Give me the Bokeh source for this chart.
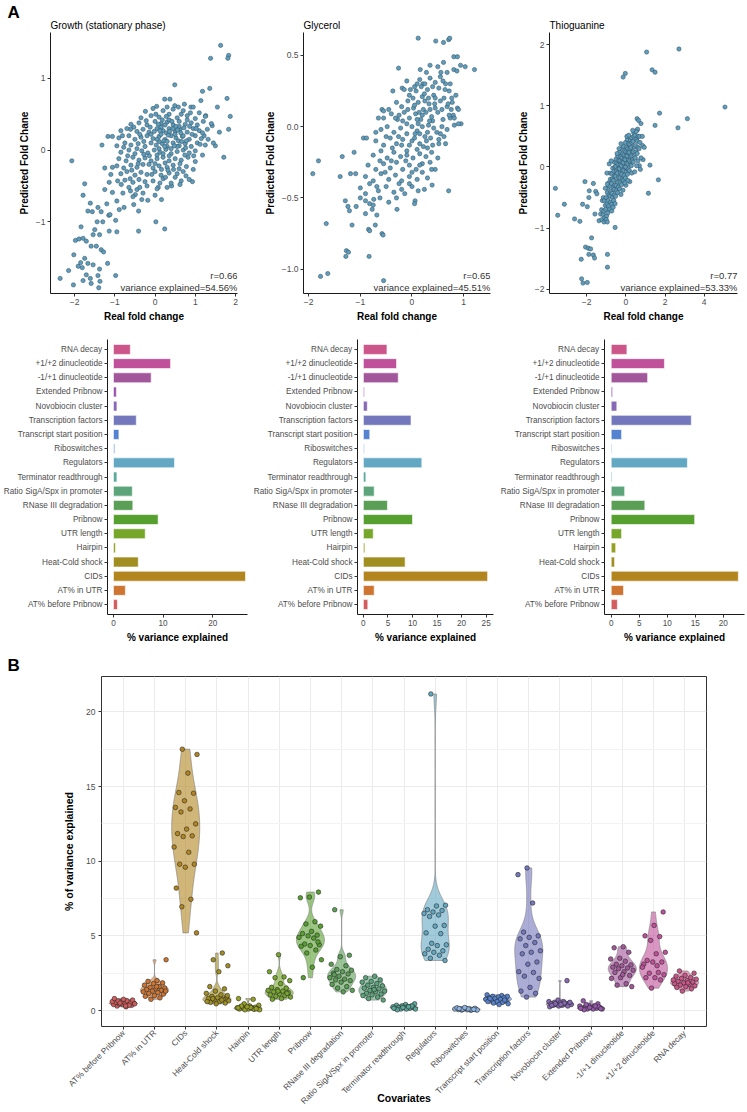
import numpy as np
from bokeh.plotting import figure
from bokeh.layouts import column, row
from bokeh.models import Range1d, FactorRange, FixedTicker, Label, ColumnDataSource, Title
from bokeh.embed import file_html
from bokeh.resources import INLINE

FONT = "Liberation Sans"
MINUS = "\u2212"

# ---------------- data ----------------
covariates = ["AT% before Pribnow", "AT% in UTR", "CIDs", "Heat-Cold shock", "Hairpin",
              "UTR length", "Pribnow", "RNase III degradation", "Ratio SigA/Spx in promoter",
              "Terminator readthrough", "Regulators", "Riboswitches", "Transcript start position",
              "Transcription factors", "Novobiocin cluster", "Extended Pribnow",
              "-1/+1 dinucleotide", "+1/+2 dinucleotide", "RNA decay"]
palette = ["#D35C5C", "#CE7532", "#B3851F", "#A18E20", "#97A121", "#76A72B", "#56A02F",
           "#5A9F55", "#5CA57B", "#5BA99C", "#62A8C2", "#8DB5E6", "#5683D1", "#7377BC",
           "#8769B6", "#9757AC", "#A3579B", "#C0509A", "#CC5689"]

bar_growth = [0.8, 2.4, 26.6, 5.0, 0.4, 6.4, 9.0, 3.9, 3.8, 0.7, 12.3, 0.3, 1.1, 4.6, 0.7, 0.6, 7.6, 11.5, 3.4]
bar_glycerol = [0.9, 2.2, 25.3, 8.5, 0.3, 2.0, 10.0, 4.9, 2.2, 0.5, 11.9, 0.2, 1.3, 9.7, 0.8, 0.2, 7.1, 6.75, 4.8]
bar_thio = [1.1, 2.2, 22.7, 0.6, 0.8, 1.85, 14.9, 6.0, 2.4, 0.15, 13.6, 0.15, 1.85, 14.3, 1.0, 0.25, 6.5, 9.5, 2.8]

growth_points = [
    (1.63, 1.46), (1.83, 1.32), (1.81, 1.28), (1.38, 1.28), (1.36, 0.86), (1.18, 0.82), (0.49, 0.91),
    (1.79, 0.72), (1.87, 0.47), (1.83, 0.29), (1.5, 0.06), (-2.07, -0.15), (-1.32, 0.07), (-1.17, 0.19),
    (-1.06, 0.19), (-1.75, -0.47), (-1.79, -0.63), (-1.61, -0.74), (-1.67, -0.85), (-1.56, -0.86),
    (-1.42, -0.80), (-1.34, -0.86), (-1.44, -1.0), (-1.84, -1.07), (-1.50, -1.11), (-1.54, -1.18),
    (-1.38, -1.18), (-1.14, -1.13), (-0.95, -1.14), (-1.98, -1.26), (-1.89, -1.24), (-1.79, -1.23),
    (-1.71, -1.27), (-1.59, -1.34), (-1.46, -1.34), (-1.34, -1.39), (-1.28, -1.42), (-2.02, -1.46),
    (-1.75, -1.51), (-1.67, -1.58), (-1.85, -1.57), (-1.91, -1.62), (-1.81, -1.64), (-1.54, -1.60),
    (-1.18, -1.58), (-1.38, -1.66), (-2.15, -1.68), (-1.71, -1.74), (-1.61, -1.79), (-1.59, -1.86),
    (-1.79, -1.82), (-1.42, -1.75), (-1.37, -1.83), (-1.40, -1.92), (-2.36, -1.79), (-2.03, -1.88),
    (-0.98, -1.75), (-1.15, -0.91), (-1.12, -0.90), (-0.95, -0.71), (-1.14, -0.45), (-1.10, -0.34),
    (-1.06, -0.24), (-0.93, -0.43), (-0.84, -0.48), (-1.06, -0.59), (-0.77, -0.80), (-0.41, -1.13),
    (0.02, -1.0), (0.24, -1.10), (-0.53, -0.76), (-0.41, -0.85), (-0.33, -0.69), (-0.18, -0.70),
    (0.16, -0.69), (-0.89, -0.83), (-0.61, -0.57), (-0.49, -0.62), (0.08, -0.52), (0.65, -0.43),
    (0.93, -0.44), (0.77, -0.36), (0.41, -0.50), (1.18, -0.07), (1.71, -0.10), (1.22, 0.20), (1.42, 0.34),
    (1.26, 0.48), (1.14, 0.69), (0.49, 0.62), (0.24, 0.71), (0.37, 0.71), (0.04, 0.61), (-0.24, 0.54),
    (-0.53, 0.32), (-0.61, 0.29), (-0.81, 0.20), (0.73, 0.64), (0.89, 0.60),
    (-0.05, 0.58), (0.2, 0.55), (0.45, 0.57), (0.7, 0.55), (0.95, 0.6), (1.1, 0.52), (0.3, 0.6),
    (-0.35, 0.45), (-0.1, 0.48), (0.1, 0.46), (0.35, 0.5), (0.55, 0.45), (0.8, 0.48), (1.0, 0.44),
    (1.25, 0.47), (0.65, 0.5), (-0.6, 0.36), (-0.4, 0.38), (-0.2, 0.35), (0.0, 0.4), (0.15, 0.37),
    (0.3, 0.39), (0.45, 0.35), (0.6, 0.4), (0.75, 0.36), (0.9, 0.38), (1.05, 0.35), (1.2, 0.4), (1.4, 0.37),
    (-0.85, 0.27), (-0.7, 0.3), (-0.45, 0.26), (-0.3, 0.29), (-0.15, 0.25), (0.05, 0.3), (0.2, 0.27),
    (0.35, 0.3), (0.5, 0.26), (0.62, 0.29), (0.8, 0.25), (0.95, 0.3), (1.1, 0.27), (1.3, 0.29), (0.28, 0.24),
    (0.72, 0.31), (-0.9, 0.17), (-0.65, 0.2), (-0.5, 0.15), (-0.35, 0.18), (-0.2, 0.2), (-0.05, 0.16),
    (0.1, 0.19), (0.25, 0.15), (0.4, 0.2), (0.52, 0.17), (0.68, 0.19), (0.85, 0.15), (1.0, 0.2), (1.15, 0.16),
    (0.15, 0.22), (0.58, 0.13), (0.33, 0.21), (-0.95, 0.06), (-0.75, 0.1), (-0.6, 0.07), (-0.42, 0.09),
    (-0.25, 0.05), (-0.1, 0.1), (0.03, 0.07), (0.18, 0.09), (0.3, 0.05), (0.45, 0.1), (0.6, 0.06), (0.75, 0.09),
    (0.9, 0.05), (1.05, 0.1), (1.25, 0.07), (0.1, 0.12), (0.4, 0.02), (0.22, 0.13), (-0.85, -0.03),
    (-0.65, 0.0), (-0.5, -0.05), (-0.33, -0.01), (-0.18, -0.04), (-0.02, 0.0), (0.12, -0.03), (0.27, 0.01),
    (0.4, -0.05), (0.55, -0.02), (0.7, 0.0), (0.85, -0.04), (1.0, -0.01), (0.05, -0.07), (0.35, -0.08),
    (-0.9, -0.12), (-0.72, -0.15), (-0.55, -0.1), (-0.4, -0.14), (-0.25, -0.11), (-0.1, -0.15), (0.05, -0.12),
    (0.2, -0.1), (0.35, -0.15), (0.5, -0.12), (0.65, -0.14), (0.82, -0.1), (1.0, -0.16), (-0.15, -0.2),
    (0.25, -0.18), (-0.95, -0.22), (-0.78, -0.25), (-0.6, -0.21), (-0.45, -0.24), (-0.3, -0.2), (-0.05, -0.25),
    (0.1, -0.22), (0.3, -0.24), (0.45, -0.21), (0.6, -0.26), (0.78, -0.23), (0.95, -0.27), (-0.85, -0.33),
    (-0.7, -0.3), (-0.5, -0.35), (-0.35, -0.31), (-0.2, -0.34), (0.0, -0.3), (0.15, -0.35), (0.35, -0.32),
    (0.55, -0.33), (0.7, -0.3), (-0.75, -0.42), (-0.55, -0.45), (-0.4, -0.41), (-0.25, -0.44), (-0.05, -0.43),
    (0.2, -0.4), (0.4, -0.46), (0.85, -0.41), (-0.65, -0.52), (-0.45, -0.55), (-0.2, -0.5), (0.05, -0.54),
    (0.3, -0.52), (-0.3, -0.6), (0.0, -0.63), (-0.55, -0.65), (0.1, 0.02), (0.2, -0.05), (0.3, 0.12),
    (0.5, 0.22), (0.45, 0.3), (0.15, 0.32), (-0.1, 0.22), (0.6, 0.33), (0.8, 0.42), (0.05, 0.15), (0.35, 0.42),
    (0.7, 0.2), (0.25, 0.35), (0.55, 0.05),
    (-0.45, 0.02), (-0.38, 0.22), (-0.28, 0.12), (-0.12, 0.32), (-0.02, 0.26), (0.08, 0.36), (0.18, 0.42),
    (0.28, 0.47), (0.42, 0.4), (0.52, 0.33), (0.64, 0.24), (0.78, 0.13), (0.92, 0.22), (1.02, 0.3),
    (1.12, 0.08), (0.96, -0.08), (0.74, -0.07), (0.62, -0.19), (0.46, -0.27), (0.32, -0.28), (0.16, -0.27),
    (0.0, -0.19), (-0.14, -0.08), (-0.28, -0.06), (-0.42, -0.19), (-0.58, -0.28), (-0.68, -0.08),
    (-0.78, 0.04), (-0.22, 0.41), (0.02, 0.5), (0.12, 0.27), (0.24, 0.05), (0.36, 0.26), (0.48, 0.06),
    (0.56, 0.28), (0.66, 0.12), (0.76, 0.03), (0.86, 0.33), (1.18, 0.24), (1.32, 0.15), (-0.08, -0.34),
    (0.26, -0.38), (0.5, -0.38), (0.62, -0.48), (-0.38, -0.52), (-0.62, -0.4), (-0.8, -0.6), (0.12, -0.46),
    (0.88, 0.52), (0.58, 0.6), (1.55, 0.6), (1.6, 0.25), (1.45, 0.1), (-1.25, -0.55), (-1.2, -0.75),
    (-0.98, -0.98), (-1.3, -1.0), (-1.25, -0.25),
]

glycerol_points = [
    (0.12, 0.62), (0.46, 0.60), (0.61, 0.59), (0.71, 0.61), (0.73, 0.62), (0.81, 0.49), (0.88, 0.49),
    (0.61, 0.45), (0.94, 0.43), (1.03, 0.42), (1.21, 0.40), (0.81, 0.40), (0.87, 0.39), (0.68, 0.38),
    (0.56, 0.38), (0.35, 0.43), (-0.26, 0.41), (0.16, 0.40), (-0.10, 0.32), (-0.37, 0.25), (-0.19, 0.27),
    (-0.03, 0.26), (0.21, 0.30), (0.74, 0.30), (0.77, 0.20), (0.88, 0.13), (0.80, 0.08), (0.74, 0.06),
    (0.95, 0.02), (0.9, 0.02), (0.82, 0.01), (0.58, 0.0), (0.52, -0.12), (0.39, -0.41), (0.06, -0.52),
    (0.05, -0.54), (0.24, -0.44), (0.71, -0.45), (-0.29, -0.58), (-0.65, 0.06), (-0.58, 0.12), (-0.55, 0.11),
    (-0.94, -0.08), (-0.88, -0.08), (-1.12, -0.18), (-1.35, -0.21), (-1.81, -0.24), (-1.92, -0.33),
    (-1.39, -0.35), (-1.19, -0.33), (-1.09, -0.33), (-1.29, -0.52), (-1.24, -0.56), (-1.21, -0.59),
    (-1.16, -0.69), (-1.08, -0.56), (-1.0, -0.50), (-0.90, -0.52), (-0.90, -0.61), (-0.82, -0.54),
    (-0.77, -0.58), (-0.74, -0.51), (-0.68, -0.62), (-0.84, -0.72), (-0.82, -0.73), (-0.71, -0.69),
    (-0.58, -0.75), (-0.56, -0.76), (-1.66, -0.68), (-1.27, -0.87), (-1.23, -0.88), (-1.28, -0.91),
    (-0.83, -0.91), (-1.63, -1.03), (-1.77, -1.05), (-0.55, -1.08),
    (0.15, 0.33), (0.25, 0.3), (0.35, 0.34), (0.45, 0.31), (0.55, 0.35), (0.65, 0.3), (0.05, 0.28),
    (-0.15, 0.26), (-0.05, 0.22), (0.08, 0.25), (0.2, 0.21), (0.3, 0.26), (0.42, 0.22), (0.52, 0.27),
    (0.62, 0.2), (0.72, 0.25), (0.85, 0.22), (-0.45, 0.12), (-0.3, 0.17), (-0.2, 0.14), (-0.08, 0.18),
    (0.03, 0.13), (0.12, 0.17), (0.22, 0.12), (0.33, 0.16), (0.45, 0.13), (0.55, 0.18), (0.68, 0.14),
    (0.78, 0.17), (0.9, 0.12), (-0.55, 0.06), (-0.4, 0.09), (-0.28, 0.05), (-0.15, 0.1), (-0.05, 0.06),
    (0.07, 0.09), (0.17, 0.05), (0.27, 0.1), (0.38, 0.07), (0.5, 0.1), (0.6, 0.05), (0.72, 0.08), (0.82, 0.06),
    (0.12, 0.02), (0.32, 0.01), (-0.6, -0.02), (-0.48, 0.0), (-0.35, -0.04), (-0.22, -0.01), (-0.1, -0.05),
    (0.0, 0.0), (0.1, -0.03), (0.2, 0.0), (0.3, -0.04), (0.42, -0.01), (0.55, -0.05), (0.68, -0.02),
    (0.25, -0.07), (-0.7, -0.1), (-0.55, -0.13), (-0.42, -0.08), (-0.3, -0.12), (-0.18, -0.09), (-0.05, -0.13),
    (0.05, -0.08), (0.15, -0.12), (0.28, -0.1), (0.4, -0.13), (0.52, -0.09), (0.65, -0.12), (-0.1, -0.17),
    (0.1, -0.16), (-0.75, -0.2), (-0.6, -0.17), (-0.48, -0.22), (-0.35, -0.18), (-0.22, -0.21), (-0.1, -0.2),
    (0.02, -0.22), (0.15, -0.19), (0.27, -0.21), (0.38, -0.18), (0.5, -0.22), (0.35, -0.25), (-0.85, -0.27),
    (-0.7, -0.3), (-0.55, -0.26), (-0.42, -0.29), (-0.3, -0.25), (-0.18, -0.3), (-0.05, -0.27), (0.08, -0.3),
    (0.2, -0.26), (0.45, -0.3), (-0.9, -0.35), (-0.75, -0.38), (-0.6, -0.33), (-0.45, -0.37), (-0.32, -0.34),
    (-0.2, -0.38), (-0.05, -0.35), (0.1, -0.37), (0.3, -0.36), (-1.0, -0.43), (-0.82, -0.4), (-0.65, -0.45),
    (-0.5, -0.42), (-0.35, -0.46), (-0.2, -0.44), (0.0, -0.42), (-0.9, -0.47), (-0.62, -0.5), (-0.45, -0.53),
    (-0.3, -0.5), (-0.75, -0.55), (0.1, 0.05), (0.2, 0.08), (0.0, -0.1), (0.25, 0.18), (0.4, 0.04),
    (-0.1, 0.02), (0.15, -0.05), (0.35, 0.12), (0.05, 0.15), (0.3, -0.15), (-0.2, -0.13), (0.45, 0.2),
    (0.18, 0.28), (-0.25, 0.08),
    (0.02, 0.2), (0.14, 0.1), (0.24, 0.23), (0.34, 0.04), (0.44, 0.16), (0.58, 0.12), (0.64, 0.26),
    (0.76, 0.12), (0.48, -0.04), (0.36, -0.08), (0.22, -0.14), (0.06, -0.05), (-0.08, 0.12), (-0.18, 0.04),
    (-0.26, -0.07), (-0.38, -0.15), (-0.5, -0.07), (-0.62, -0.24), (-0.4, -0.24), (-0.12, -0.24), (0.0, -0.32),
    (0.2, -0.32), (0.38, -0.3), (-0.52, -0.32), (-0.68, -0.42), (-0.25, -0.4), (-0.14, -0.47), (0.12, -0.45),
    (0.28, 0.38), (0.4, 0.28), (0.6, 0.32), (0.7, 0.16), (0.32, 0.2), (0.1, 0.3), (-0.32, 0.06), (-0.7, -0.04),
    (0.5, 0.42), (0.62, -0.07), (0.15, -0.27), (-0.05, -0.4),
]

thio_points = [
    (1.06, 1.88), (2.71, 1.93), (1.34, 1.59), (1.49, 1.55), (-0.03, 1.53), (-0.14, 1.47), (5.06, 0.98),
    (1.72, 0.88), (3.14, 0.79), (2.66, 0.64), (1.49, 0.68), (0.57, 0.79), (0.65, 0.76), (0.77, 0.71),
    (1.23, 0.03), (1.66, -0.21), (1.15, -0.43), (-3.6, -0.35), (-3.48, -0.79), (-3.14, -0.61), (-2.62, -0.85),
    (-2.35, -0.89), (-2.21, -0.61), (-2.09, -0.24), (-1.97, -0.65), (-1.87, -0.39), (-1.89, -0.50),
    (-1.66, -0.27), (-1.54, -0.40), (-1.48, -0.44), (-1.58, -0.77), (-1.75, -1.16), (-2.06, -1.31),
    (-1.92, -1.33), (-1.80, -1.34), (-2.28, -1.51), (-1.89, -1.43), (-1.66, -1.44), (-1.60, -1.49),
    (-0.94, -1.43), (-0.94, -1.64), (-2.26, -1.83), (-2.19, -1.90), (-1.97, -1.89), (-0.55, -0.99),
    (-1.37, -0.88), (-1.29, -0.77), (-1.2, -0.55), (-1.15, -0.5),
    (-1.22, -0.86), (-1.16, -0.78), (-1.24, -0.7), (-1.08, -0.83), (-1.12, -0.72), (-1.05, -0.63), (-1.1, -0.55),
    (-0.98, -0.8), (-1.02, -0.69), (-0.96, -0.6), (-1.0, -0.5), (-0.95, -0.42), (-1.12, -0.9), (-1.0, -0.86),
    (-0.95, -0.9), (-0.92, -0.75), (-0.88, -0.64), (-0.9, -0.55), (-0.86, -0.46), (-0.93, -0.35), (-0.88, -0.26),
    (-0.82, -0.69), (-0.78, -0.58), (-0.8, -0.48), (-0.76, -0.4), (-0.83, -0.31), (-0.79, -0.2), (-0.81, -0.1),
    (-0.72, -0.61), (-0.68, -0.5), (-0.7, -0.43), (-0.66, -0.34), (-0.73, -0.27), (-0.69, -0.19), (-0.71, -0.11),
    (-0.67, -0.02), (-0.62, -0.55), (-0.58, -0.46), (-0.6, -0.37), (-0.57, -0.3), (-0.63, -0.22), (-0.59, -0.15),
    (-0.61, -0.07), (-0.56, 0.0), (-0.6, 0.08), (-0.52, -0.48), (-0.48, -0.39), (-0.5, -0.3), (-0.46, -0.23),
    (-0.53, -0.15), (-0.49, -0.08), (-0.51, 0.01), (-0.47, 0.07), (-0.5, 0.13), (-0.42, -0.42), (-0.38, -0.33),
    (-0.41, -0.25), (-0.37, -0.17), (-0.43, -0.1), (-0.39, -0.03), (-0.4, 0.04), (-0.36, 0.11), (-0.42, 0.18),
    (-0.32, -0.36), (-0.28, -0.26), (-0.31, -0.18), (-0.27, -0.1), (-0.33, -0.03), (-0.29, 0.04), (-0.3, 0.1),
    (-0.26, 0.17), (-0.32, 0.24), (-0.22, -0.29), (-0.18, -0.2), (-0.21, -0.12), (-0.17, -0.05), (-0.23, 0.02),
    (-0.19, 0.08), (-0.2, 0.15), (-0.16, 0.22), (-0.22, 0.3), (-0.12, -0.22), (-0.08, -0.14), (-0.11, -0.06),
    (-0.07, 0.0), (-0.13, 0.07), (-0.09, 0.13), (-0.1, 0.2), (-0.06, 0.27), (-0.12, 0.34), (-0.02, -0.18),
    (0.02, -0.08), (-0.01, 0.0), (0.03, 0.06), (-0.03, 0.12), (0.01, 0.18), (0.0, 0.25), (0.04, 0.32),
    (-0.02, 0.4), (0.08, -0.12), (0.12, -0.04), (0.09, 0.05), (0.13, 0.12), (0.07, 0.18), (0.11, 0.24),
    (0.1, 0.3), (0.14, 0.38), (0.08, 0.45), (0.18, -0.06), (0.22, 0.03), (0.19, 0.1), (0.23, 0.17),
    (0.17, 0.24), (0.21, 0.3), (0.2, 0.37), (0.24, 0.44), (0.28, 0.02), (0.32, 0.1), (0.29, 0.18), (0.33, 0.25),
    (0.27, 0.32), (0.31, 0.4), (0.3, 0.48), (0.38, 0.08), (0.42, 0.17), (0.39, 0.25), (0.43, 0.33), (0.37, 0.42),
    (0.41, 0.5), (0.4, 0.56), (0.48, 0.15), (0.52, 0.25), (0.49, 0.35), (0.53, 0.45), (0.47, 0.52),
    (0.58, 0.22), (0.62, 0.32), (0.59, 0.42), (0.63, 0.5), (0.57, 0.6), (0.68, 0.3), (0.72, 0.4), (0.7, 0.5),
    (0.86, 0.35), (0.84, 0.5), (0.88, 0.12), (0.77, 0.15), (0.94, 0.32), (0.69, 0.02), (0.74, -0.04),
    (0.6, 0.62), (0.52, 0.58),
    (0.0, -0.3), (0.05, 0.5), (-0.05, -0.26), (-0.55, -0.6), (-0.45, 0.22), (0.3, -0.1), (0.35, 0.6),
    (-1.05, -0.35), (-0.95, -0.28), (-0.85, 0.05), (-0.75, 0.1), (-0.97, -0.1), (-0.72, -0.72),
    (0.2, -0.24), (0.45, -0.08), (0.55, 0.02), (0.62, 0.1), (-0.25, -0.45), (-0.15, -0.38), (0.1, -0.22),
    (-0.35, 0.3), (-0.25, 0.38), (0.15, 0.52), (-0.65, -0.66),
]

v_at_before = [0.25, 0.3, 0.35, 0.4, 0.4, 0.45, 0.45, 0.5, 0.5, 0.55, 0.55, 0.6, 0.6, 0.65, 0.65, 0.7, 0.75, 0.8, 0.35, 0.5, 0.45, 0.3]
v_at_utr = [3.4, 2.0, 1.95, 1.85, 1.8, 1.7, 1.6, 1.55, 1.5, 1.45, 1.4, 1.35, 1.3, 1.25, 1.2, 1.15, 1.1, 1.0, 0.95, 0.85, 0.75, 1.3, 1.6]
v_cids = [17.5, 17.15, 15.9, 14.6, 14.55, 14.05, 13.6, 13.5, 13.3, 12.5, 12.15, 11.85, 11.7, 11.65, 10.95, 10.6, 9.8, 9.8, 9.6, 8.2, 7.45, 6.95, 5.2]
v_heat = [3.85, 3.4, 3.0, 2.6, 1.6, 1.45, 1.3, 1.15, 1.05, 0.95, 0.9, 0.85, 0.8, 0.75, 0.7, 0.65, 0.6, 0.55, 0.5, 0.45, 0.6, 0.7, 0.8, 1.0]
v_hairpin = [0.8, 0.75, 0.45, 0.35, 0.3, 0.25, 0.22, 0.2, 0.18, 0.15, 0.15, 0.12, 0.1, 0.1, 0.08, 0.05, 0.05, 0.2, 0.3, 0.12, 0.25, 0.18]
v_utr = [3.74, 2.6, 2.25, 2.2, 2.0, 1.8, 1.55, 1.5, 1.4, 1.35, 1.3, 1.25, 1.2, 1.1, 1.05, 1.0, 0.95, 0.9, 0.8, 0.75, 1.15, 1.3]
v_pribnow = [7.93, 7.6, 7.55, 5.95, 5.8, 5.65, 5.3, 5.15, 5.05, 5.0, 4.9, 4.85, 4.45, 4.4, 4.35, 4.3, 4.05, 3.85, 3.4, 2.9, 2.2, 4.6]
v_rnase = [6.75, 3.7, 3.6, 3.1, 3.0, 2.75, 2.7, 2.6, 2.5, 2.45, 2.3, 2.2, 2.1, 2.05, 2.0, 1.9, 1.75, 1.6, 1.5, 1.35, 1.25, 2.4]
v_ratio = [2.3, 2.2, 2.05, 1.95, 1.9, 1.8, 1.7, 1.65, 1.55, 1.5, 1.45, 1.35, 1.3, 1.25, 1.15, 1.1, 1.05, 1.0, 0.9, 0.8, 0.7, 1.4]
v_term = [0.45, 0.4, 0.35, 0.3, 0.3, 0.25, 0.25, 0.2, 0.2, 0.2, 0.15, 0.15, 0.1, 0.1, 0.1, 0.05, 0.3, 0.2, 0.15, 0.25]
v_reg = [21.2, 7.05, 7.0, 6.75, 6.7, 6.6, 6.5, 6.4, 6.3, 5.7, 5.65, 5.2, 5.15, 4.5, 4.4, 4.35, 4.1, 4.0, 3.9, 3.8, 3.7, 3.5, 3.35]
v_ribo = [0.02, 0.03, 0.05, 0.05, 0.07, 0.08, 0.1, 0.1, 0.12, 0.12, 0.15, 0.15, 0.18, 0.06, 0.09, 0.04, 0.11, 0.13, 0.08, 0.2]
v_tsp = [1.05, 1.0, 0.95, 0.95, 0.9, 0.85, 0.85, 0.8, 0.75, 0.75, 0.7, 0.65, 0.6, 0.6, 0.55, 0.5, 0.45, 0.4, 0.8, 0.7]
v_tf = [9.55, 9.1, 7.2, 5.25, 5.0, 4.9, 4.8, 4.55, 4.35, 4.0, 3.9, 3.8, 3.25, 3.1, 2.6, 2.55, 2.3, 2.15, 1.55, 1.3, 1.15, 0.9]
v_novo = [2.0, 0.7, 0.6, 0.6, 0.55, 0.5, 0.5, 0.45, 0.45, 0.4, 0.4, 0.35, 0.35, 0.3, 0.3, 0.25, 0.5, 0.45, 0.55, 0.4, 0.35]
v_ext = [0.65, 0.45, 0.35, 0.3, 0.3, 0.25, 0.2, 0.2, 0.15, 0.15, 0.1, 0.1, 0.1, 0.05, 0.25, 0.2, 0.15, 0.3, 0.4, 0.12]
v_m1p1 = [4.27, 4.2, 3.9, 3.5, 3.45, 3.3, 3.1, 3.05, 3.0, 2.9, 2.85, 2.8, 2.7, 2.6, 2.55, 2.35, 2.2, 2.15, 1.8, 1.7, 1.6, 2.4]
v_p1p2 = [6.6, 5.7, 5.0, 4.95, 4.7, 3.9, 3.8, 3.35, 3.25, 3.25, 3.1, 2.55, 2.5, 2.4, 2.2, 2.2, 2.05, 1.5, 2.9, 3.0]
v_rna = [2.65, 2.5, 2.35, 2.3, 2.2, 2.15, 2.1, 2.0, 1.95, 1.9, 1.85, 1.8, 1.75, 1.7, 1.65, 1.6, 1.55, 1.45, 1.3, 2.05, 1.85]

violin_values = [v_at_before, v_at_utr, v_cids, v_heat, v_hairpin, v_utr, v_pribnow, v_rnase, v_ratio,
                 v_term, v_reg, v_ribo, v_tsp, v_tf, v_novo, v_ext, v_m1p1, v_p1p2, v_rna]


# ---------------- helpers ----------------
def minus_labels(ticks, fmt):
    return {t: fmt.format(t).replace("-", MINUS) for t in ticks}


def style_axes(p, label_size="8.5px"):
    for ax in p.axis:
        ax.axis_line_color = "#1a1a1a"
        ax.axis_line_width = 1
        ax.major_tick_line_color = "#333333"
        ax.major_tick_out = 3
        ax.major_tick_in = 0
        ax.minor_tick_line_color = None
        ax.major_label_text_font = FONT
        ax.major_label_text_font_size = label_size
        ax.major_label_text_color = "#4D4D4D"
        ax.axis_label_text_font = FONT
        ax.axis_label_text_font_size = "10px"
        ax.axis_label_text_font_style = "bold"
        ax.axis_label_text_color = "black"
        ax.major_label_standoff = 2
        ax.axis_label_standoff = 3


def panel_letter(p, letter, offset, standoff):
    p.add_layout(Title(text=letter, align="left", offset=offset, standoff=standoff, text_font=FONT,
                       text_font_size="17px", text_font_style="bold", text_color="black"), "above")


def scatter_panel(title, pts, xr, yr, xt, yt, yfmt, r_txt, ve_txt, width, bl, br):
    p = figure(width=width, height=330, x_range=Range1d(*xr), y_range=Range1d(*yr),
               output_backend="svg", toolbar_location=None, title=None,
               min_border_left=bl, min_border_right=br, min_border_top=32, min_border_bottom=37)
    p.add_layout(Title(text=title, align="left", standoff=3, text_font=FONT, text_font_size="10px",
                       text_font_style="normal", text_color="black"), "above")
    p.outline_line_color = None
    p.grid.visible = False
    xs = [a for a, b in pts]
    ys = [b for a, b in pts]
    p.scatter(xs, ys, size=4.3, fill_color="#5E9DBB", line_color="#2E4B5C", line_width=0.5)
    p.xaxis.ticker = FixedTicker(ticks=xt)
    p.yaxis.ticker = FixedTicker(ticks=yt)
    p.xaxis.major_label_overrides = minus_labels(xt, "{:g}")
    p.yaxis.major_label_overrides = minus_labels(yt, yfmt)
    p.xaxis.axis_label = "Real fold change"
    p.yaxis.axis_label = "Predicted Fold Chane"
    style_axes(p)
    p.add_layout(Label(x=xr[1], y=yr[0], text=ve_txt, text_align="right", text_baseline="bottom",
                       y_offset=1, text_font=FONT, text_font_size="9.5px", text_color="#333333"))
    p.add_layout(Label(x=xr[1], y=yr[0], text=r_txt, text_align="right", text_baseline="bottom",
                       y_offset=13, text_font=FONT, text_font_size="9.5px", text_color="#333333"))
    return p


def bar_panel(vals, xr, xt, width, bl, br):
    src = ColumnDataSource(dict(cov=covariates, val=vals, color=palette))
    p = figure(width=width, height=315, x_range=Range1d(*xr),
               y_range=FactorRange(factors=covariates, range_padding=0.2, range_padding_units="absolute"),
               output_backend="svg", toolbar_location=None,
               min_border_left=bl, min_border_right=br, min_border_top=9, min_border_bottom=29)
    p.outline_line_color = None
    p.grid.visible = False
    p.hbar(y="cov", left=0, right="val", height=0.7, fill_color="color", line_color="white",
           line_width=0.6, source=src)
    p.xaxis.ticker = FixedTicker(ticks=xt)
    p.xaxis.axis_label = "% variance explained"
    style_axes(p, "8.2px")
    return p


def violin_shape(vals):
    v = np.asarray(vals, dtype=float)
    n = len(v)
    sd = v.std(ddof=1)
    q75, q25 = np.percentile(v, [75, 25])
    lo = min(sd, (q75 - q25) / 1.34)
    if lo <= 0:
        lo = sd if sd > 0 else 0.1
    bw = 0.9 * lo * n ** (-0.2)
    grid = np.linspace(v.min(), v.max(), 256)
    dens = np.exp(-0.5 * ((grid[:, None] - v[None, :]) / bw) ** 2).sum(axis=1)
    dens = dens / dens.max() * 0.45
    return grid, dens


# ---------------- row 1: scatters ----------------
s1 = scatter_panel("Growth (stationary phase)", growth_points, (-2.6, 2.05), (-2.0, 1.64),
                   [-2, -1, 0, 1, 2], [-1, 0, 1], "{:g}", "r=0.66", "variance explained=54.56%",
                   250, 50, 13)
s2 = scatter_panel("Glycerol", glycerol_points, (-2.1, 1.52), (-1.17, 0.66),
                   [-2, -1, 0, 1], [-1.0, -0.5, 0.0, 0.5], "{:.1f}", "r=0.65", "variance explained=45.51%",
                   247, 53, 7)
s3 = scatter_panel("Thioguanine", thio_points, (-3.9, 5.7), (-2.07, 2.2),
                   [-2, 0, 2, 4], [-2, -1, 0, 1, 2], "{:g}", "r=0.77", "variance explained=53.33%",
                   250, 52, 10)
panel_letter(s1, "A", -43, -10)

# ---------------- row 2: bars ----------------
b1 = bar_panel(bar_growth, (-1.2, 27.0), [0, 10, 20], 250, 105, 3)
b2 = bar_panel(bar_glycerol, (-1.2, 26.5), [0, 5, 10, 15, 20, 25], 247, 99, 4)
b3 = bar_panel(bar_thio, (-1.2, 23.8), [0, 5, 10, 15, 20], 250, 105, 3)

# ---------------- row 3: violins ----------------
VH, VT, VB = 467, 31, 86
vp = figure(width=747, height=VH,
            x_range=FactorRange(factors=covariates, range_padding=0.2, range_padding_units="absolute"),
            y_range=Range1d(-1.07, 22.37), output_backend="svg", toolbar_location=None, title=None,
            min_border_left=101, min_border_right=41, min_border_top=VT, min_border_bottom=VB)
vp.outline_line_color = "#333333"
vp.outline_line_width = 1
vp.xgrid.grid_line_color = "#EBEBEB"
vp.ygrid.grid_line_color = "#EBEBEB"
vp.ygrid.minor_grid_line_color = "#F3F3F3"
vp.yaxis.ticker = FixedTicker(ticks=[0, 5, 10, 15, 20], minor_ticks=[2.5, 7.5, 12.5, 17.5])

pxs, pys, pcol = [], [], []
jx, jy, jc = [], [], []
for i, (vals, col) in enumerate(zip(violin_values, palette)):
    grid, half = violin_shape(vals)
    c = i + 0.5
    pxs.append(list(np.concatenate([c - half, (c + half)[::-1]])))
    pys.append(list(np.concatenate([grid, grid[::-1]])))
    pcol.append(col)
    for k, val in enumerate(vals):
        off = (((k + 1) * 0.6180339887 + i * 0.37) % 1.0 - 0.5) * 0.76
        jx.append(c + off)
        jy.append(val)
        jc.append(col)

vp.patches(pxs, pys, fill_color=pcol, fill_alpha=0.6, line_color="#7A7A7A", line_width=0.6)
vp.scatter(jx, jy, size=4.6, fill_color=jc, line_color="#2A2A2A", line_width=0.6)
vp.yaxis.axis_label = "% of variance explained"
vp.xaxis.axis_label = "Covariates"
style_axes(vp)
vp.xaxis.major_label_orientation = np.pi / 4
vp.xaxis.major_label_text_font_size = "8.3px"
vp.xaxis.axis_line_color = None
vp.yaxis.axis_line_color = None
vp.yaxis.axis_label_text_font_size = "10.5px"
vp.xaxis.axis_label_text_font_size = "10.5px"
vp.yaxis.axis_label_standoff = 8
vp.xaxis.axis_label_standoff = -20
vp.xaxis.major_tick_line_color = "#333333"
panel_letter(vp, "B", -94, 3)

layout = column(row(s1, s2, s3), row(b1, b2, b3), vp)
open("out.html", "w").write(file_html(layout, INLINE))
